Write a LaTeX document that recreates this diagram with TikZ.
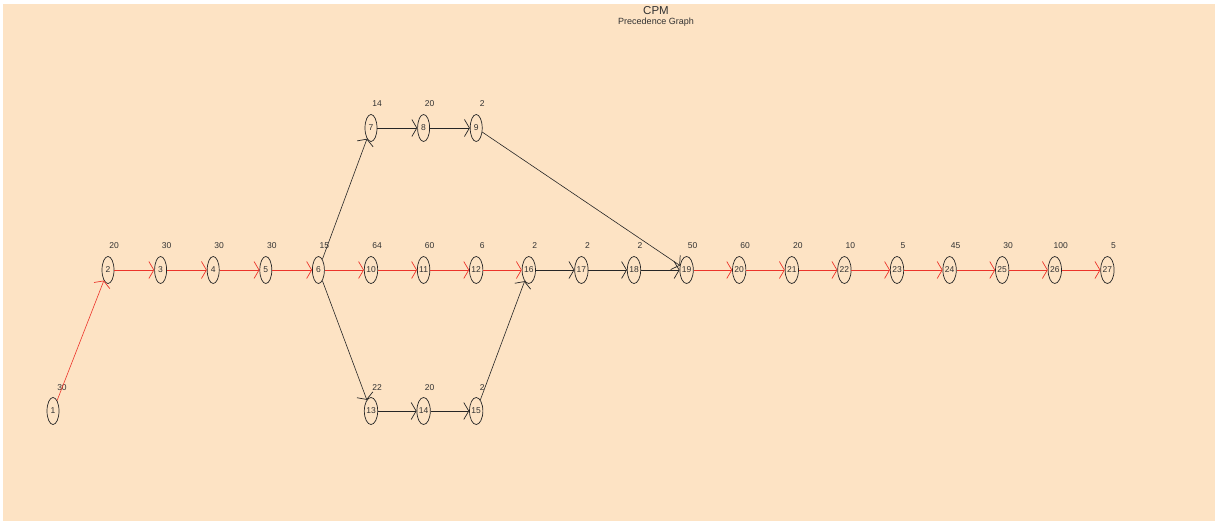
\documentclass[tikz,border=0pt]{standalone}
\usepackage{fontspec}
\setmainfont{Liberation Sans}
\usetikzlibrary{shapes.geometric,arrows.meta}
\definecolor{bgbeige}{RGB}{253,227,196}
\definecolor{critred}{RGB}{236,52,42}
\definecolor{txtgray}{RGB}{50,50,50}
\tikzset{
  cpm/.style={draw=black!85,ellipse,minimum width=12pt,minimum height=27pt,inner sep=0pt,line width=0.7pt,font=\fontsize{8.5}{9}\selectfont,text=txtgray},
  dur/.style={inner sep=0pt,font=\fontsize{8.5}{9}\selectfont,text=txtgray},
  edge/.style={line width=0.6pt,draw=black!85,-{Straight Barb[length=5pt,width=17pt,line width=0.7pt]}},
  crit/.style={edge,draw=critred}
}
\newcommand{\cpmnode}[5]{%
  \node[cpm] (n#1) at (#2,#3) {#1};
  \node[dur] (d#1) at (#2+6,#3-#5) {#4};}
\begin{document}
\begin{tikzpicture}[x=1pt,y=-1pt]
\fill[white] (0,0) rectangle (1215,521);
\fill[bgbeige] (3,4) rectangle (1215,521);
\useasboundingbox (0,0) rectangle (1215,521);
\node[inner sep=0pt,font=\fontsize{11.5}{12}\selectfont,text=txtgray] (title) at (656,11) {CPM};
\node[inner sep=0pt,font=\fontsize{9}{9}\selectfont,text=txtgray] (subtitle) at (656,22) {Precedence Graph};
% node 1
\node[cpm] (n1) at (53,411) {1};
\node[dur] (d1) at (62,388) {30};
% main row
\cpmnode{2}{108}{270}{20}{24}
\cpmnode{3}{160.6}{270}{30}{24}
\cpmnode{4}{213.2}{270}{30}{24}
\cpmnode{5}{265.8}{270}{30}{24}
\cpmnode{6}{318.4}{270}{15}{24}
\cpmnode{10}{371}{270}{64}{24}
\cpmnode{11}{423.6}{270}{60}{24}
\cpmnode{12}{476.2}{270}{6}{24}
\cpmnode{16}{528.8}{270}{2}{24}
\cpmnode{17}{581.4}{270}{2}{24}
\cpmnode{18}{634}{270}{2}{24}
\cpmnode{19}{686.6}{270}{50}{24}
\cpmnode{20}{739.2}{270}{60}{24}
\cpmnode{21}{791.8}{270}{20}{24}
\cpmnode{22}{844.4}{270}{10}{24}
\cpmnode{23}{897}{270}{5}{24}
\cpmnode{24}{949.6}{270}{45}{24}
\cpmnode{25}{1002.2}{270}{30}{24}
\cpmnode{26}{1054.8}{270}{100}{24}
\cpmnode{27}{1107.4}{270}{5}{24}
% top row
\cpmnode{7}{371}{128}{14}{24}
\cpmnode{8}{423.6}{128}{20}{24}
\cpmnode{9}{476.2}{128}{2}{24}
% bottom row
\cpmnode{13}{371}{411}{22}{23}
\cpmnode{14}{423.6}{411}{20}{23}
\cpmnode{15}{476.2}{411}{2}{23}
% critical edges
\draw[crit] (n1) -- (n2);
\draw[crit] (n2) -- (n3);
\draw[crit] (n3) -- (n4);
\draw[crit] (n4) -- (n5);
\draw[crit] (n5) -- (n6);
\draw[crit] (n6) -- (n10);
\draw[crit] (n10) -- (n11);
\draw[crit] (n11) -- (n12);
\draw[crit] (n12) -- (n16);
\draw[crit] (n19) -- (n20);
\draw[crit] (n20) -- (n21);
\draw[crit] (n21) -- (n22);
\draw[crit] (n22) -- (n23);
\draw[crit] (n23) -- (n24);
\draw[crit] (n24) -- (n25);
\draw[crit] (n25) -- (n26);
\draw[crit] (n26) -- (n27);
% other edges
\draw[edge] (n6) -- (n7);
\draw[edge] (n7) -- (n8);
\draw[edge] (n8) -- (n9);
\draw[edge] (n9) -- (n19);
\draw[edge] (n6) -- (n13);
\draw[edge] (n13) -- (n14);
\draw[edge] (n14) -- (n15);
\draw[edge] (n15) -- (n16);
\draw[edge] (n16) -- (n17);
\draw[edge] (n17) -- (n18);
\draw[edge] (n18) -- (n19);
\end{tikzpicture}
\end{document}
